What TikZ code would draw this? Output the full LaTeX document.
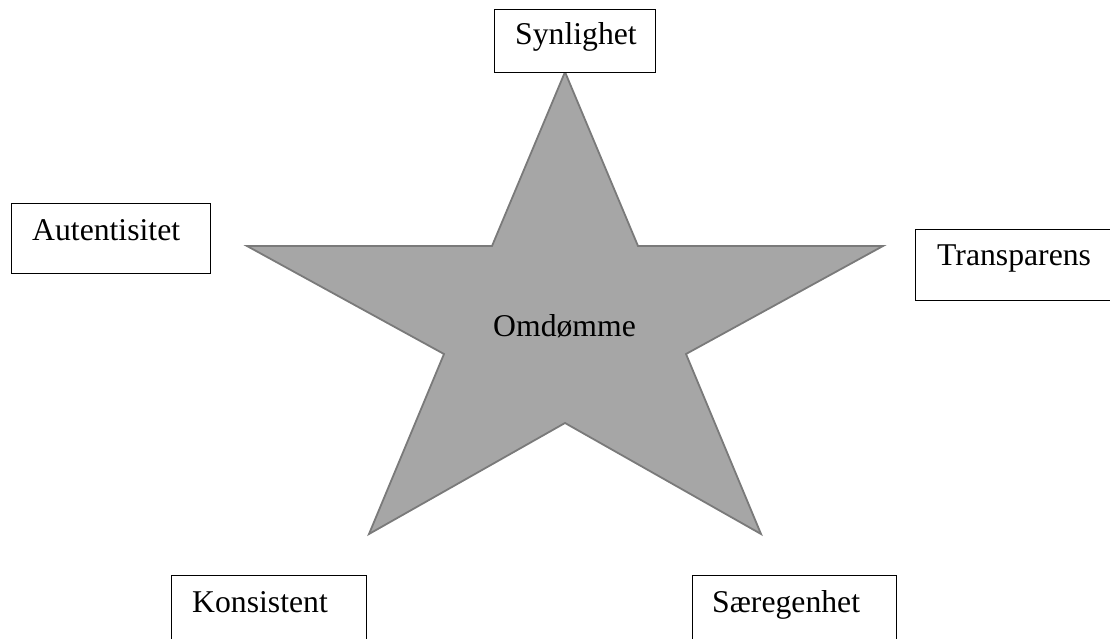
\documentclass[tikz,border=0pt]{standalone}
\usepackage{fontspec}
\setmainfont{Liberation Serif}
\begin{document}
\begin{tikzpicture}[x=1pt,y=-1pt,
  box/.style={draw=black,line width=1.4pt,fill=white},
  lbl/.style={inner sep=0pt,anchor=base west,font=\fontsize{31.7}{38}\selectfont},
  starshape/.style={fill=starfill,draw=staredge,line width=1.8pt,line join=miter}]
\definecolor{starfill}{HTML}{A6A6A6}
\definecolor{staredge}{HTML}{7A7A7A}
\useasboundingbox (0,0) rectangle (1110,639);
\clip (0,0) rectangle (1110,639);

% five-pointed star
\coordinate (t)  at (565,72);
\coordinate (i1) at (638,246);
\coordinate (r)  at (883,246);
\coordinate (i2) at (686,354);
\coordinate (br) at (761,534);
\coordinate (i3) at (565,423);
\coordinate (bl) at (369,534);
\coordinate (i4) at (444,354);
\coordinate (l)  at (247,246);
\coordinate (i5) at (492,246);
\draw[starshape] (t) -- (i1) -- (r) -- (i2) -- (br) -- (i3) -- (bl) -- (i4) -- (l) -- (i5) -- cycle;
\node[lbl] (omd) at (493,336) {Omdømme};

% surrounding boxes
\node[box,minimum width=161pt,minimum height=63pt,anchor=north west] (syn) at (494,9) {};
\node[lbl] at (515,45) {Synlighet};

\node[box,minimum width=199pt,minimum height=70pt,anchor=north west] (aut) at (11,203) {};
\node[lbl] at (32,240) {Autentisitet};

\node[box,minimum width=215pt,minimum height=71pt,anchor=north west] (tra) at (915,229) {};
\node[lbl] at (937,265) {Transparens};

\node[box,minimum width=195pt,minimum height=90pt,anchor=north west] (kon) at (171,575) {};
\node[lbl] at (192,612) {Konsistent};

\node[box,minimum width=204pt,minimum height=90pt,anchor=north west] (sar) at (692,575) {};
\node[lbl] at (712,612) {Særegenhet};
\end{tikzpicture}
\end{document}
